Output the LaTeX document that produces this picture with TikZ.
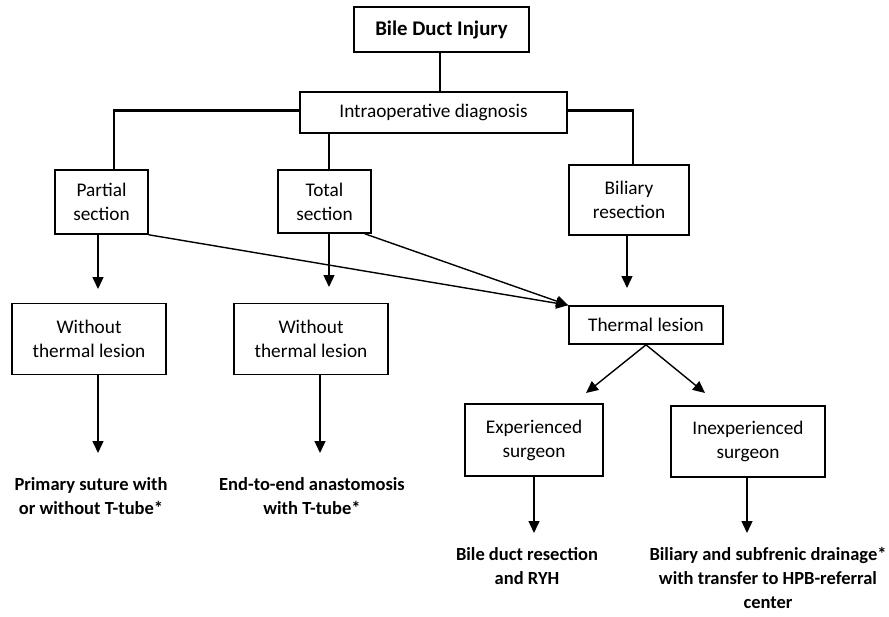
\documentclass[tikz,border=0pt]{standalone}
\usepackage{fontspec}
\setmainfont{Carlito}
\usetikzlibrary{arrows.meta}
\begin{document}
\begin{tikzpicture}[x=1pt,y=-1pt,
  box/.style={draw,line width=1.6pt,align=center,inner sep=0pt,font=\fontsize{19.3}{24}\selectfont},
  res/.style={align=center,inner sep=0pt,font=\bfseries\fontsize{18.5}{24}\selectfont},
  trunk/.style={line width=2.6pt},
  arr/.style={line width=1.4pt,-{Triangle[length=12pt,width=11pt]}}]
\useasboundingbox (0,0) rectangle (889,616);
\node[box,minimum width=175pt,minimum height=45pt,font=\bfseries\fontsize{20.8}{24}\selectfont] (bdi) at (441.5,29.5) {Bile Duct Injury};
\node[box,minimum width=267pt,minimum height=41pt] (intra) at (433.5,112.5) {Intraoperative diagnosis};
\node[box,minimum width=93pt,minimum height=64pt] (partial) at (101.5,202) {Partial\\section};
\node[box,minimum width=93pt,minimum height=63pt] (total) at (324.5,201.5) {Total\\section};
\node[box,minimum width=120pt,minimum height=70pt] (biliary) at (629,200) {Biliary\\resection};
\node[box,minimum width=154pt,minimum height=38pt] (thermal) at (646,325) {Thermal lesion};
\node[box,minimum width=154pt,minimum height=71pt] (wo1) at (89,339) {Without\\thermal lesion};
\node[box,minimum width=154pt,minimum height=71pt] (wo2) at (311,339) {Without\\thermal lesion};
\node[box,minimum width=138pt,minimum height=72pt] (exp) at (534,440) {Experienced\\surgeon};
\node[box,minimum width=154pt,minimum height=71pt] (inexp) at (748,441.5) {Inexperienced\\surgeon};
\node[res] (r1) at (91,496) {Primary suture with\\or without T-tube*};
\node[res] (r2) at (312,496) {End-to-end anastomosis\\with T-tube*};
\node[res] (r3) at (527,566) {Bile duct resection\\and RYH};
\node[res] (r4) at (768,578) {Biliary and subfrenic drainage*\\with transfer to HPB-referral\\center};
% trunk connectors
\draw[trunk] (bdi.south -| 440,0) -- (intra.north -| 440,0);
\draw[trunk] ([yshift=2pt]intra.west) -| ([xshift=12.5pt]partial.north);
\draw[trunk] ([xshift=4.5pt]total.north |- intra.south) -- ([xshift=4.5pt]total.north);
\draw[trunk] ([yshift=2pt]intra.east) -| ([xshift=4pt]biliary.north);
% arrows
\coordinate (a1) at (98,289);
\coordinate (a2) at (329,287);
\coordinate (a3) at (627,288);
\coordinate (a4) at (98,453);
\coordinate (a5) at (320,453);
\coordinate (a6) at (534,533);
\coordinate (a7) at (747,533);
\coordinate (d1) at (586,393);
\coordinate (d2) at (705,393);
\draw[arr] (partial.south -| a1) -- (a1);
\draw[arr] (total.south -| a2) -- (a2);
\draw[arr] (biliary.south -| a3) -- (a3);
\draw[arr] (wo1.south -| a4) -- (a4);
\draw[arr] (wo2.south -| a5) -- (a5);
\draw[arr] (exp.south -| a6) -- (a6);
\draw[arr] (inexp.south -| a7) -- (a7);
\draw[arr] (partial.south east) -- (thermal.north west);
\draw[arr] ([xshift=-7pt]total.south east) -- (thermal.north west);
\draw[arr] (thermal.south) -- (d1);
\draw[arr] (thermal.south) -- (d2);
\end{tikzpicture}
\end{document}
